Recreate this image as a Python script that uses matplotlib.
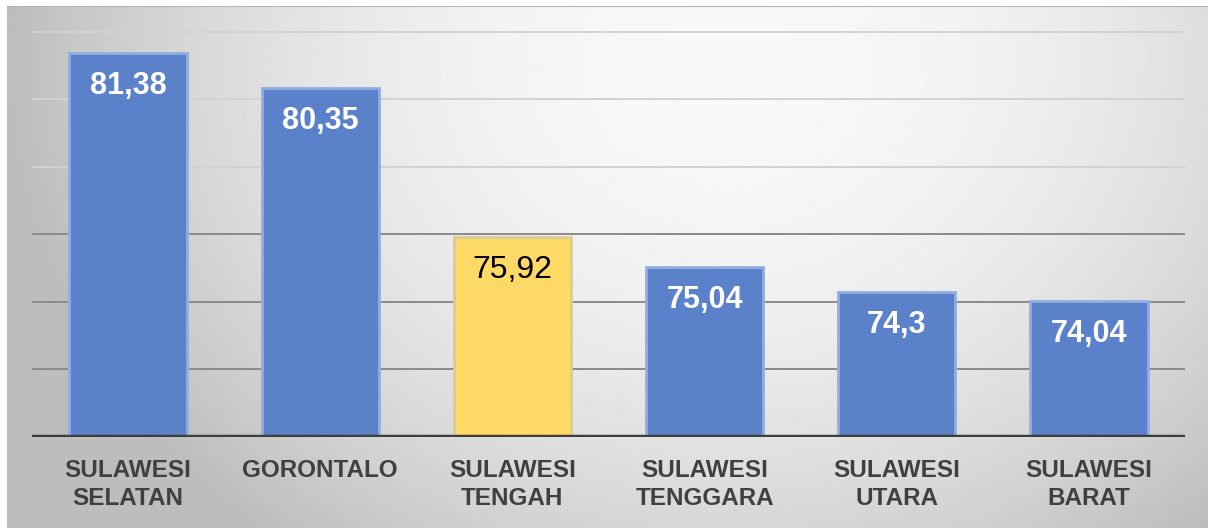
import numpy as np
import matplotlib
matplotlib.use("Agg")
from matplotlib import pyplot as plt

# Nilai per provinsi
provinsi = ["SULAWESI\nSELATAN", "GORONTALO", "SULAWESI\nTENGAH",
            "SULAWESI\nTENGGARA", "SULAWESI\nUTARA", "SULAWESI\nBARAT"]
nilai = [81.38, 80.35, 75.92, 75.04, 74.3, 74.04]
label_nilai = ["81,38", "80,35", "75,92", "75,04", "74,3", "74,04"]
sorot = "SULAWESI\nTENGAH"

plt.rcParams['font.family'] = ['Liberation Sans', 'DejaVu Sans']

W, H = 1208, 528
fig = plt.figure(figsize=(W / 100, H / 100), dpi=100)
fig.patch.set_facecolor("white")

# latar belakang dengan gradasi radial
bg = fig.add_axes([7 / W, 0, 1 - 7 / W, 1 - 6 / H])
yy, xx = np.mgrid[0:1:300j, 0:1:600j]
r2 = ((xx - 0.6) / 0.58) ** 2 + ((yy - 0.1) / 1.15) ** 2
shade = np.clip(0.975 - 0.22 * r2, 0.74, 1.0)
bg.imshow(shade, cmap="gray", vmin=0, vmax=1, aspect="auto",
          extent=[0, 1, 0, 1], origin="upper", interpolation="bilinear")
bg.axhline(1, color="#b4b4b4", lw=1.5)
bg.set_axis_off()

ax = fig.add_axes([32 / W, (H - 437) / H, (1185 - 32) / W, (437 - 15) / H])
ax.patch.set_alpha(0)

x = np.arange(len(provinsi))
warna = ["#ffd966" if p == sorot else "#5a81c9" for p in provinsi]
tepi = ["#d8cc9a" if p == sorot else "#90aee0" for p in provinsi]
ax.bar(x, [v - 70 for v in nilai], bottom=70, width=0.61,
       color=warna, edgecolor=tepi, linewidth=2, zorder=3)

# garis bantu horizontal
for g in [72, 74, 76, 78, 80, 82]:
    c = "#8a8a8a" if g <= 76 else "#d2d2d2"
    ax.axhline(g, color=c, lw=1.4, zorder=2)
ax.axhline(70, color="#3d3d3d", lw=3.2, zorder=4)

for xi, v, t, p in zip(x, nilai, label_nilai, provinsi):
    if p == sorot:
        ax.annotate(t, (xi, v), xytext=(0, -24), textcoords="offset points",
                    ha="center", va="center", fontsize=23, color="black", zorder=5)
    else:
        ax.annotate(t, (xi, v), xytext=(0, -24), textcoords="offset points",
                    ha="center", va="center", fontsize=22, color="white",
                    fontweight="bold", zorder=5)

ax.set_xlim(-0.5, len(provinsi) - 0.5)
ax.set_ylim(70, 82.5)
ax.set_yticks([])
ax.set_xticks(x)
ax.set_xticklabels(provinsi, fontsize=17.5, fontweight="bold", color="#404040",
                   linespacing=1.25, va="top")
ax.tick_params(axis="x", length=0, pad=16)
for s in ax.spines.values():
    s.set_visible(False)

fig.savefig("out.png", dpi=100)
